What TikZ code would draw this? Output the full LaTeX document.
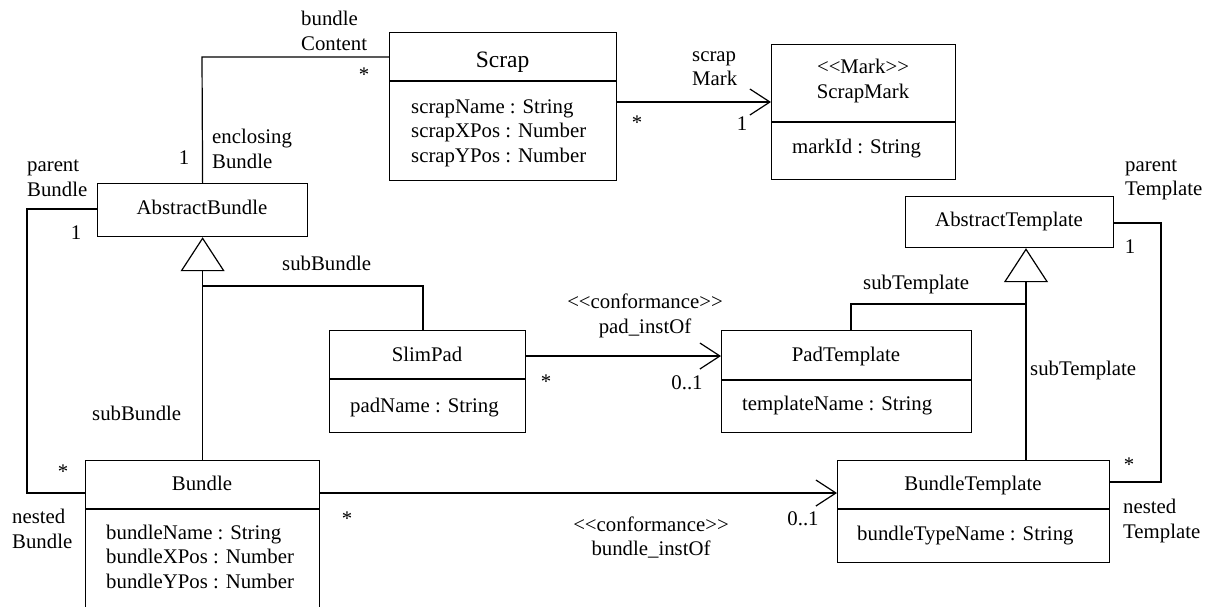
\documentclass[tikz,border=0pt]{standalone}
\usepackage{fontspec}
\setmainfont{Liberation Serif}
\usetikzlibrary{arrows.meta}
\newcommand\umlfont{\fontsize{20.8}{24.5}\selectfont}
\newcommand\umlbig{\fontsize{23.5}{28}\selectfont}
\begin{document}
\begin{tikzpicture}[x=1pt,y=-1pt,
  classbox/.style={draw, line width=1.2pt, rectangle, inner sep=0pt, anchor=north west},
  lb/.style={inner sep=0pt, font=\umlfont, anchor=base west},
  lbc/.style={inner sep=0pt, font=\umlfont, anchor=base},
  conn/.style={line width=1.2pt},
  nav/.style={conn, -{Straight Barb[length=20pt,width=26pt]}},
  gen/.style={conn, -{Triangle[open,length=34pt,width=44pt]}},
]
\clip (0,0) rectangle (1210,606);
\fill[white] (0,0) rectangle (1210,606);

% ---------- classes ----------
\node[classbox, minimum width=227pt, minimum height=148pt] (Scrap) at (389,32) {};
\draw[conn] ([yshift=-49pt]Scrap.north west) -- ([yshift=-49pt]Scrap.north east);
\node[lbc, font=\umlbig] (scrapT) at (502.5,67) {Scrap};
\node[lb] (scrapA1) at (411,113) {scrapName : String};
\node[lb] (scrapA2) at (411,137.5) {scrapXPos : Number};
\node[lb] (scrapA3) at (411,162) {scrapYPos : Number};

\node[classbox, minimum width=184pt, minimum height=135pt] (ScrapMark) at (771,44) {};
\draw[conn] ([yshift=-78pt]ScrapMark.north west) -- ([yshift=-78pt]ScrapMark.north east);
\node[lbc] (smS) at (863,73) {<{}<Mark>{}>};
\node[lbc] (smT) at (863,98) {ScrapMark};
\node[lb] (smA1) at (792,153) {markId : String};

\node[classbox, minimum width=210pt, minimum height=53pt] (AbstractBundle) at (97,183) {};
\node[lbc] (abT) at (202,214) {AbstractBundle};

\node[classbox, minimum width=234pt, minimum height=200pt] (Bundle) at (85,460) {};
\draw[conn] ([yshift=-49pt]Bundle.north west) -- ([yshift=-49pt]Bundle.north east);
\node[lbc] (bT) at (202,490) {Bundle};
\node[lb] (bA1) at (106,539) {bundleName : String};
\node[lb] (bA2) at (106,563.5) {bundleXPos : Number};
\node[lb] (bA3) at (106,588) {bundleYPos : Number};

\node[classbox, minimum width=196pt, minimum height=102pt] (SlimPad) at (329,330) {};
\draw[conn] ([yshift=-49pt]SlimPad.north west) -- ([yshift=-49pt]SlimPad.north east);
\node[lbc] (spT) at (427,361) {SlimPad};
\node[lb] (spA1) at (350,412) {padName : String};

\node[classbox, minimum width=250pt, minimum height=102pt] (PadTemplate) at (721,330) {};
\draw[conn] ([yshift=-50pt]PadTemplate.north west) -- ([yshift=-50pt]PadTemplate.north east);
\node[lbc] (ptT) at (846,361) {PadTemplate};
\node[lb] (ptA1) at (742,410) {templateName : String};

\node[classbox, minimum width=208pt, minimum height=51pt] (AbstractTemplate) at (905,196) {};
\node[lbc] (atT) at (1009,226) {AbstractTemplate};

\node[classbox, minimum width=272pt, minimum height=102pt] (BundleTemplate) at (837,460) {};
\draw[conn] ([yshift=-49pt]BundleTemplate.north west) -- ([yshift=-49pt]BundleTemplate.north east);
\node[lbc] (btT) at (973,490) {BundleTemplate};
\node[lb] (btA1) at (857,540) {bundleTypeName : String};

% ---------- helper points ----------
\coordinate (encl) at (202,57);
\coordinate (smy) at (0,102);
\coordinate (pb) at (27,209);
\coordinate (bly) at (0,493);
\coordinate (sb) at (423,286);
\coordinate (pay) at (0,356);
\coordinate (gt) at (1026,0);
\coordinate (st) at (851,304);
\coordinate (nt) at (1161,482);
\coordinate (aty) at (0,223);

% ---------- connectors ----------
\draw[conn] (AbstractBundle.north) -- (encl) -- (encl -| Scrap.west);
\draw[nav] (Scrap.east |- smy) -- (ScrapMark.west |- smy);
\draw[conn] (AbstractBundle.west |- pb) -- (pb) -- (pb |- bly) -- (Bundle.west |- bly);
\draw[gen] (Bundle.north) -- (AbstractBundle.south);
\draw[conn] (SlimPad.north -| sb) -- (sb) -- (sb -| Bundle.north);
\draw[nav] (SlimPad.east |- pay) -- (PadTemplate.west |- pay);
\draw[nav] (Bundle.east |- bly) -- (BundleTemplate.west |- bly);
\draw[gen] (BundleTemplate.north -| gt) -- (AbstractTemplate.south -| gt);
\draw[conn] (PadTemplate.north -| st) -- (st) -- (st -| gt);
\draw[conn] (BundleTemplate.east |- nt) -- (nt) -- (nt |- aty) -- (AbstractTemplate.east |- aty);

% ---------- role names ----------
\node[lb] (rBC1) at (301,25) {bundle};
\node[lb] (rBC2) at (301,50) {Content};
\node[lb] (rEB1) at (212,143) {enclosing};
\node[lb] (rEB2) at (212,168) {Bundle};
\node[lb] (rPB1) at (27,171) {parent};
\node[lb] (rPB2) at (27,196) {Bundle};
\node[lb] (rSB1) at (282,270) {subBundle};
\node[lb] (rSB2) at (92,420) {subBundle};
\node[lb] (rNB1) at (12,523) {nested};
\node[lb] (rNB2) at (12,548) {Bundle};
\node[lb] (rSM1) at (692,61) {scrap};
\node[lb] (rSM2) at (692,85) {Mark};
\node[lbc] (rPI1) at (645,308) {<{}<conformance>{}>};
\node[lbc] (rPI2) at (645,333) {pad\_instOf};
\node[lbc] (rBI1) at (651,531) {<{}<conformance>{}>};
\node[lbc] (rBI2) at (651,555) {bundle\_instOf};
\node[lb] (rST1) at (863,289) {subTemplate};
\node[lb] (rST2) at (1030,375) {subTemplate};
\node[lb] (rPT1) at (1125,171) {parent};
\node[lb] (rPT2) at (1125,195) {Template};
\node[lb] (rNT1) at (1123,513) {nested};
\node[lb] (rNT2) at (1123,538) {Template};

% ---------- multiplicities ----------
\node[lbc] (m1) at (364,81) {*};
\node[lbc] (m2) at (184,164) {1};
\node[lbc] (m3) at (76,239) {1};
\node[lbc] (m4) at (637,129) {*};
\node[lbc] (m5) at (742,130) {1};
\node[lbc] (m6) at (546,388) {*};
\node[lbc] (m7) at (687,389) {0..1};
\node[lbc] (m8) at (63,478) {*};
\node[lbc] (m9) at (347,525) {*};
\node[lbc] (m10) at (803,525) {0..1};
\node[lbc] (m11) at (1129,471) {*};
\node[lbc] (m12) at (1130,253) {1};
\end{tikzpicture}
\end{document}
